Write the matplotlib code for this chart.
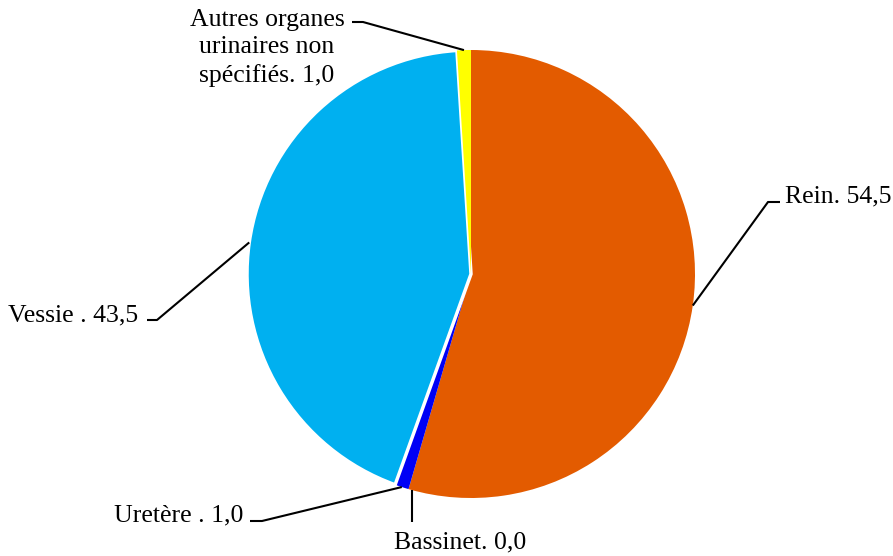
import numpy as np
import matplotlib
matplotlib.use("Agg")
import matplotlib.pyplot as plt

# répartition des localisations (%)
labels = ["Rein", "Bassinet", "Uretère", "Vessie", "Autres organes\nurinaires non\nspécifiés"]
values = [54.5, 0.0, 1.0, 43.5, 1.0]
seps = [". ", ". ", " . ", " . ", ". "]
colors = ["#E35B00", "#FFFFFF", "#0000F5", "#00B0F0", "#FFFF00"]

W, H = 893, 556
CX, CY, R = 471, 274, 224


def px(x, y):
    # pixels -> coordonnées du camembert (rayon 1)
    return (x - CX) / R, (CY - y) / R


fig = plt.figure(figsize=(W / 100, H / 100), dpi=100)
ax = fig.add_axes([0, 0, 1, 1])
x0, y1 = px(0, 0)
x1, y0 = px(W, H)

wedges, _ = ax.pie(values, colors=colors, startangle=90, counterclock=False,
                   radius=1, center=(0, 0), frame=True,
                   wedgeprops=dict(linewidth=0))
ax.set_xlim(x0, x1)
ax.set_ylim(y0, y1)
ax.set_aspect("equal")
ax.axis("off")
wedges[3].set_edgecolor("white")
wedges[3].set_linewidth(2.5)

# angle milieu de chaque part
total = sum(values)
cum = np.cumsum([0] + values)
mid = [np.radians(90 - 360 * (cum[i] + values[i] / 2) / total) for i in range(len(values))]

# coude et texte de chaque étiquette (pixels)
leaders = [
    [(768, 202), (780, 202)],
    [(412, 522)],
    [(262, 521), (250, 521)],
    [(157, 320), (147, 320)],
    [(363, 22), (352, 22)],
]
text_pos = [(785, 202, "left"), (460, 548, "center"), (243, 521, "right"),
            (138, 321, "right"), (267, 9, "center")]

font = dict(family=["Liberation Serif", "DejaVu Serif"], fontsize=18.5, color="black")

for i in range(len(values)):
    start = (np.cos(mid[i]), np.sin(mid[i]))
    if values[i] == 0:
        # part nulle : trait vertical depuis le bord du disque
        ex, _ = px(*leaders[i][0])
        start = (ex, -np.sqrt(1 - ex ** 2))
    pts = [start] + [px(*p) for p in leaders[i]]
    xs, ys = zip(*pts)
    ax.plot(xs, ys, color="black", linewidth=1.5, solid_capstyle="butt")
    tx, ty, ha = text_pos[i]
    s = ",".join(f"{labels[i]}{seps[i]}{values[i]:.1f}".rsplit(".", 1))
    if "\n" in s:
        ax.text(*px(tx, ty), s, ha=ha, va="top", multialignment="center",
                linespacing=1.32, **font)
    else:
        ax.text(*px(tx, ty), s, ha=ha, va="baseline", **font)

fig.savefig("out.png", dpi=100)
